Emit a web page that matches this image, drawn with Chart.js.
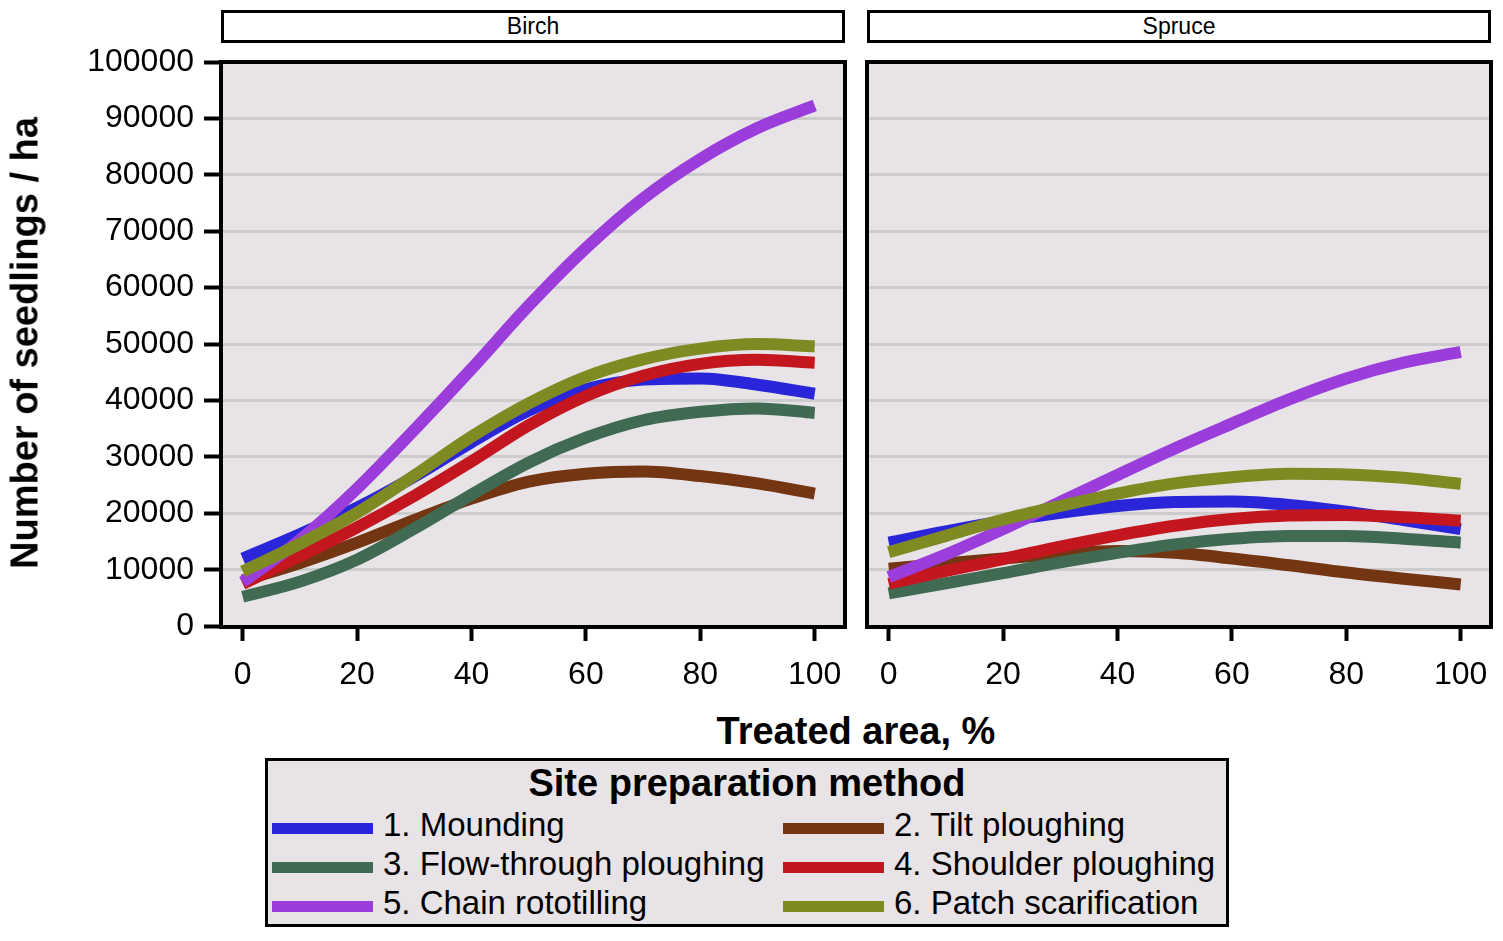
<!doctype html>
<html lang="en">
<head>
<meta charset="utf-8">
<title>Seedlings by treated area</title>
<script src="https://cdn.jsdelivr.net/npm/chart.js@4.4.1/dist/chart.umd.min.js"></script>
<style>
  body { margin: 0; background: #fff; font-family: "Liberation Sans", Arial, sans-serif; overflow: hidden; }
  #wrap { position: relative; width: 1503px; height: 941px; overflow: hidden; }
  canvas { position: absolute; top: 0; }
  .strip { position: absolute; top: 10px; height: 27px; border: 3px solid #000; background: #fff;
           font-size: 23px; text-align: center; line-height: 27px; }
  .title { position: absolute; font-weight: bold; font-size: 38px; white-space: nowrap; }
  #legend { position: absolute; left: 265px; top: 758px; width: 958px; height: 163px;
            border: 3px solid #000; background: #e7e3e7; }
  #legend .head { position: absolute; left: 0; right: 0; top: 1px; text-align: center;
                  font-weight: bold; font-size: 38px; }
  .item { position: absolute; font-size: 33px; white-space: nowrap; }
  .item span.sw { position: absolute; left: 0; top: 17px; width: 101px; height: 11px; }
  .item span.tx { position: absolute; left: 111px; top: 0; }
</style>
</head>
<body>
<div id="wrap">
  <canvas id="birch" width="862" height="700" style="left:0"></canvas>
  <canvas id="spruce" width="660" height="700" style="left:850px"></canvas>
  <div class="strip" style="left:221px;width:618px">Birch</div>
  <div class="strip" style="left:867px;width:618px">Spruce</div>
  <div class="title" style="left:856px;top:731px;transform:translate(-50%,-50%)">Treated area, %</div>
  <div class="title" style="left:25px;top:343px;transform:translate(-50%,-50%) rotate(-90deg)">Number of seedlings / ha</div>
  <div id="legend"><div class="head">Site preparation method</div></div>
</div>
<script>
// treated area, %
var xs = [0, 10, 20, 30, 40, 50, 60, 70, 80, 90, 100];
var xTicks = [0, 20, 40, 60, 80, 100];
var yTicks = [0, 10000, 20000, 30000, 40000, 50000, 60000, 70000, 80000, 90000, 100000];

var methods = ["1. Mounding", "2. Tilt ploughing", "3. Flow-through ploughing",
               "4. Shoulder ploughing", "5. Chain rototilling", "6. Patch scarification"];
var colors = ["#2a25d8", "#743512", "#416a53", "#c3161f", "#9b3ddb", "#7f8b22"];

// seedlings per ha, thousands
var birchMounding = [12.0, 16.3, 21.0, 26.5, 32.6, 38.2, 42.0, 43.7, 43.9, 42.8, 41.2];
var birchTilt     = [8.1, 11.2, 14.8, 18.8, 22.6, 25.6, 27.0, 27.4, 26.6, 25.3, 23.5];
var birchFlow     = [5.2, 7.9, 11.8, 17.3, 23.3, 29.0, 33.4, 36.5, 38.0, 38.6, 37.8];
var birchShoulder = [7.5, 12.4, 17.5, 23.1, 29.2, 35.6, 40.8, 44.4, 46.5, 47.2, 46.7];
var birchChain    = [7.8, 15.3, 24.4, 34.8, 45.6, 56.8, 67.0, 75.8, 82.8, 88.3, 92.3];
var birchPatch    = [9.7, 14.6, 20.1, 26.7, 33.6, 39.5, 44.2, 47.3, 49.2, 50.0, 49.6];

var spruceMounding = [14.8, 16.8, 18.6, 20.1, 21.3, 22.0, 22.1, 21.5, 20.3, 18.8, 17.2];
var spruceTilt     = [10.2, 11.1, 12.0, 12.8, 13.3, 13.0, 12.0, 10.8, 9.5, 8.4, 7.4];
var spruceFlow     = [5.8, 7.6, 9.4, 11.3, 13.0, 14.5, 15.5, 16.0, 16.0, 15.5, 14.8];
var spruceShoulder = [7.5, 9.8, 11.9, 14.1, 16.1, 17.8, 19.0, 19.6, 19.7, 19.3, 18.7];
var spruceChain    = [8.7, 12.7, 17.2, 22.0, 26.8, 31.5, 35.9, 40.2, 43.9, 46.7, 48.6];
var sprucePatch    = [13.1, 16.0, 18.9, 21.3, 23.5, 25.3, 26.4, 27.0, 26.9, 26.3, 25.2];

var birchSeries = [birchMounding, birchTilt, birchFlow, birchShoulder, birchChain, birchPatch];
var spruceSeries = [spruceMounding, spruceTilt, spruceFlow, spruceShoulder, spruceChain, sprucePatch];

var FONT = "'Liberation Sans', Arial, sans-serif";

var panelFrame = {
  id: 'panelFrame',
  beforeDraw: function (chart) {
    var a = chart.chartArea, c = chart.ctx;
    c.save();
    c.fillStyle = '#e7e3e7';
    c.fillRect(a.left, a.top, a.right - a.left, a.bottom - a.top);
    c.restore();
  },
  afterDraw: function (chart) {
    var a = chart.chartArea, c = chart.ctx;
    c.save();
    c.strokeStyle = '#000';
    c.lineWidth = 4;
    c.strokeRect(a.left, a.top, a.right - a.left, a.bottom - a.top);
    c.restore();
  }
};

function makeDatasets(series) {
  return series.map(function (vals, i) {
    return {
      label: methods[i],
      data: xs.map(function (x, k) { return { x: x, y: vals[k] * 1000 }; }),
      borderColor: colors[i],
      backgroundColor: colors[i],
      borderWidth: 12,
      pointRadius: 0,
      cubicInterpolationMode: 'monotone',
      order: -i
    };
  });
}

function makeChart(id, series, showY, yWidth, padRight) {
  return new Chart(document.getElementById(id), {
    type: 'line',
    data: { datasets: makeDatasets(series) },
    plugins: [panelFrame],
    options: {
      responsive: false,
      animation: false,
      layout: { autoPadding: false, padding: { top: 62, right: padRight, left: 0, bottom: 0 } },
      plugins: { legend: { display: false }, tooltip: { enabled: false } },
      scales: {
        x: {
          type: 'linear', min: -3.8, max: 105.3,
          afterBuildTicks: function (s) { s.ticks = xTicks.map(function (v) { return { value: v }; }); },
          afterFit: function (s) { s.height = 73; },
          border: { display: false },
          grid: { drawOnChartArea: false, tickLength: 14, tickColor: '#000', tickWidth: 4 },
          ticks: { color: '#000', padding: 15, maxRotation: 0, font: { family: FONT, size: 32 } }
        },
        y: {
          type: 'linear', min: -150, max: 100000,
          afterBuildTicks: function (s) { s.ticks = yTicks.map(function (v) { return { value: v }; }); },
          afterFit: function (s) { s.width = yWidth; },
          border: { display: false },
          grid: { color: '#cccccc', lineWidth: 3, drawTicks: showY, tickLength: 17, tickColor: '#000', tickWidth: 4 },
          ticks: { display: showY, color: '#000', padding: 10, font: { family: FONT, size: 32 },
                   callback: function (v) { return String(v); } }
        }
      }
    }
  });
}

// right padding kept above the tick-label overflow so the plot edges land where wanted
makeChart('birch', birchSeries, true, 221, 17);
makeChart('spruce', spruceSeries, false, 17, 19);

// legend
var legend = document.getElementById('legend');
methods.forEach(function (m, i) {
  var d = document.createElement('div');
  d.className = 'item';
  d.style.left = (i % 2 === 0 ? 4 : 515) + 'px';
  d.style.top = (45 + Math.floor(i / 2) * 39) + 'px';
  d.innerHTML = '<span class="sw" style="background:' + colors[i] + '"></span><span class="tx">' + m + '</span>';
  legend.appendChild(d);
});
</script>
</body>
</html>
